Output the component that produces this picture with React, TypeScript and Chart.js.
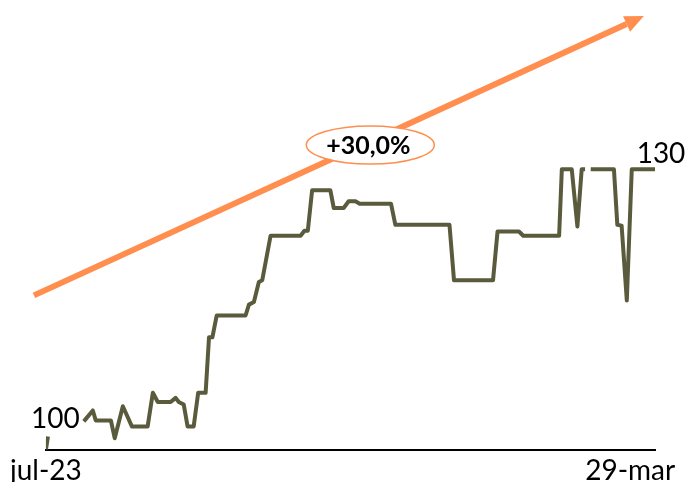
import React, { useEffect, useRef } from 'react';
import { Chart, registerables } from 'chart.js';

Chart.register(...registerables);

// Day offsets from start (jul-23) and index values (start = 100)
const days: number[] = [
  0, 0.9, 1.5, 16.8, 20.8, 22.1, 28.8, 30.5, 34.1, 38.1, 45.1, 47.4, 49.6,
  55.3, 57.5, 58.9, 61.1, 62.8, 65.5, 67.5, 70.8, 72.3, 73.8,
  75.7, 88.5, 90.0, 92.2, 94.4, 95.9, 99.6, 112.9, 114.6, 116.1,
  118.0, 126.1, 127.6, 132.0, 134.2, 137.2, 139.1, 153.0, 154.9, 178.9,
  180.9, 198.2, 200.2, 209.7, 211.6, 227.5, 228.7, 233.1, 235.6, 237.5,
  239.0, 240.2, 241.5, 251.8, 253.3, 255.2, 257.5, 259.7, 270,
];
const values: (number | null)[] = [
  96.6, 98.2, null, 100.0, 101.3, 100.1, 100.1, 98.0, 101.8, 99.4, 99.4, 103.4, 102.3,
  102.3, 102.8, 102.3, 102.0, 99.4, 99.4, 103.4, 103.4, 110.0, 110.0,
  112.6, 112.6, 113.9, 114.2, 116.6, 116.8, 122.1, 122.1, 122.7, 122.7,
  127.5, 127.5, 125.4, 125.4, 126.2, 126.2, 125.9, 125.9, 123.4, 123.4,
  116.8, 116.8, 122.6, 122.6, 122.1, 122.1, 130.0, 130.0, 123.2, 130.0,
  130.0, null, 130.0, 130.0, 123.4, 123.3, 114.4, 130.0, 130.0,
];

// Trend arrow (start and arrowhead base)
const arrowDays: number[] = [-5.3, 257.4];
const arrowValues: number[] = [115.0, 147.3];

const tickDays: number[] = [0, 259];
const tickLabels: string[] = ['jul-23', '29-mar'];

const changeLabel = '+30,0%';
const changeLabelDay = 143.8;
const changeLabelValue = 132.9;
const startLabel = '100';
const endLabel = '130';

const LINE_COLOR = '#595B3C';
const ARROW_COLOR = '#FF8E4F';
const FONT = 'Lato, "Open Sans", sans-serif';

const annotationPlugin = {
  id: 'annotations',
  afterDatasetsDraw(chart: any) {
    const ctx = chart.ctx as CanvasRenderingContext2D;
    const xs = chart.scales.x;
    const ys = chart.scales.y;

    // arrowhead
    const am = chart.getDatasetMeta(1).data;
    const p0 = am[0];
    const p1 = am[am.length - 1];
    const ang = Math.atan2(p1.y - p0.y, p1.x - p0.x);
    const len = 19;
    const hw = 8.5;
    ctx.save();
    ctx.fillStyle = ARROW_COLOR;
    ctx.beginPath();
    const tipX = p1.x + Math.cos(ang) * len;
    const tipY = p1.y + Math.sin(ang) * len;
    ctx.moveTo(tipX, tipY);
    ctx.lineTo(p1.x + Math.cos(ang + Math.PI / 2) * hw, p1.y + Math.sin(ang + Math.PI / 2) * hw);
    ctx.lineTo(p1.x + Math.cos(ang - Math.PI / 2) * hw, p1.y + Math.sin(ang - Math.PI / 2) * hw);
    ctx.closePath();
    ctx.fill();

    // ellipse label
    const cx = xs.getPixelForValue(changeLabelDay);
    const cy = ys.getPixelForValue(changeLabelValue);
    ctx.beginPath();
    ctx.ellipse(cx, cy, 64, 19, 0, 0, Math.PI * 2);
    ctx.fillStyle = '#ffffff';
    ctx.fill();
    ctx.lineWidth = 1.5;
    ctx.strokeStyle = ARROW_COLOR;
    ctx.stroke();
    ctx.fillStyle = '#000000';
    ctx.font = 'bold 25px ' + FONT;
    ctx.textAlign = 'center';
    ctx.textBaseline = 'middle';
    ctx.fillText(changeLabel, cx - 2, cy + 1);

    // start / end labels
    const lm = chart.getDatasetMeta(0).data;
    const si = values.indexOf(100);
    const sp = lm[si];
    const ep = lm[lm.length - 1];
    ctx.font = '28px ' + FONT;
    ctx.textAlign = 'right';
    ctx.textBaseline = 'middle';
    ctx.fillText(startLabel, sp.x - 4, sp.y - 2);
    ctx.textAlign = 'center';
    ctx.textBaseline = 'bottom';
    ctx.fillText(endLabel, ep.x + 6, ep.y - 1);
    ctx.restore();
  },
};

export default function App() {
  const canvasRef = useRef<HTMLCanvasElement | null>(null);

  useEffect(() => {
    if (!canvasRef.current) return;
    const chart = new Chart(canvasRef.current, {
      type: 'line',
      data: {
        datasets: [
          {
            data: days.map((d, i) => ({ x: d, y: values[i] })) as any,
            borderColor: LINE_COLOR,
            borderWidth: 4,
            pointRadius: 0,
            borderJoinStyle: 'round',
            spanGaps: false,
            tension: 0,
            fill: false,
          },
          {
            data: arrowDays.map((d, i) => ({ x: d, y: arrowValues[i] })) as any,
            borderColor: ARROW_COLOR,
            borderWidth: 6,
            pointRadius: 0,
            clip: false as any,
            tension: 0,
            fill: false,
          },
        ],
      },
      options: {
        animation: false,
        responsive: true,
        maintainAspectRatio: false,
        layout: { padding: { left: 45, right: 32, top: 0, bottom: -10 } },
        plugins: { legend: { display: false }, tooltip: { enabled: false } },
        scales: {
          x: {
            type: 'linear',
            min: 0,
            max: 270,
            grid: { display: false, drawTicks: false },
            border: { display: true, color: '#000000', width: 2 },
            afterBuildTicks: (scale: any) => {
              scale.ticks = tickDays.map((v) => ({ value: v }));
            },
            ticks: {
              autoSkip: false,
              maxRotation: 0,
              padding: 10,
              color: '#000000',
              font: { family: FONT, size: 28, lineHeight: 0.8 },
              callback: (v: any) => {
                const i = tickDays.indexOf(Number(v));
                return i >= 0 ? tickLabels[i] : '';
              },
            },
          },
          y: {
            display: false,
            min: 96.64,
            max: 150.16,
          },
        },
      },
      plugins: [annotationPlugin],
    });
    return () => chart.destroy();
  }, []);

  return (
    <div style={{ position: 'fixed', left: 0, top: 0, width: 687, height: 482, background: '#fff' }}>
      <canvas ref={canvasRef} />
    </div>
  );
}
